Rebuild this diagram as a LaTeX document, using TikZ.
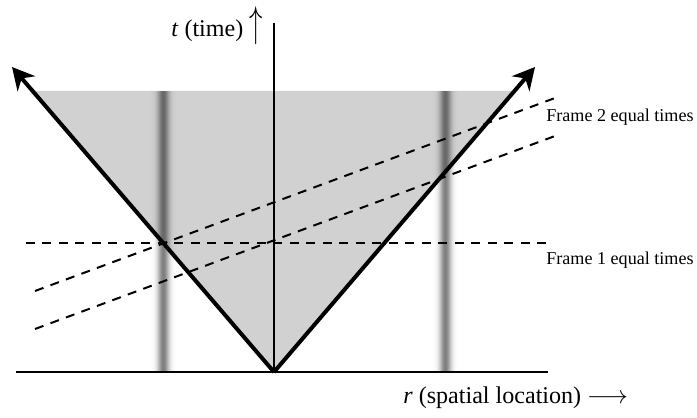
\documentclass[tikz,border=0pt]{standalone}
\usepackage{fontspec}
\setmainfont{Liberation Serif}
\usepackage{tikz}
\usetikzlibrary{arrows.meta}

\begin{document}
\begin{tikzpicture}[x=0.02cm, y=-0.02cm,
  cone/.style={line width=0.08cm, -{Stealth[length=4.4mm, width=4.6mm, inset=1.4mm]}},
  axis/.style={line width=0.04cm},
  equal/.style={line width=0.04cm, dash pattern=on 0.18cm off 0.15cm},
  framelab/.style={font=\fontsize{10.3}{13}\selectfont, anchor=base west, inner sep=0pt},
  axislab/.style={font=\fontsize{13.7}{16}\selectfont, inner sep=0pt}]
\useasboundingbox (0,0) rectangle (697,418);
% light cone and its shaded interior
\coordinate (apex) at (274,372);
\coordinate (ltip) at (12,67);
\coordinate (rtip) at (535,67);
\coordinate (gl) at (34,91);
\coordinate (gr) at (514,91);
\fill[black!18] (gl) -- (gr) -- (apex) -- cycle;
% world lines of the two objects
\foreach \wx in {163,445} {
  \foreach \i in {-13,...,13} {
    \pgfmathsetmacro\op{0.5*exp(-(\i/5.8)^2)}
    \fill[black, fill opacity=\op] (\wx+\i-0.5,91) rectangle (\wx+\i+0.5,372);
  }
}
% axes
\coordinate (bl) at (16,372);
\coordinate (br) at (548,372);
\coordinate (ttop) at (274,23);
\draw[axis] (bl) -- (br);
\draw[axis] (apex) -- (ttop);
% lines of equal time
\coordinate (h1l) at (26,243);
\coordinate (h1r) at (548,243);
\coordinate (f2al) at (35,291);
\coordinate (f2ar) at (555,98);
\coordinate (f2bl) at (35,329);
\coordinate (f2br) at (555,136);
\draw[equal] (h1l) -- (h1r);
\draw[equal] (f2al) -- (f2ar);
\draw[equal] (f2bl) -- (f2br);
\draw[cone] (apex) -- (ltip);
\draw[cone] (apex) -- (rtip);
% labels
\node[framelab] (f2) at (546,122) {Frame 2 equal times};
\node[framelab] (f1) at (546,265) {Frame 1 equal times};
\node[axislab, anchor=base east] (tlab) at (263,37) {\textit{t} (time) \scalebox{1.05}[1.7]{$\uparrow$}};
\node[axislab, anchor=base west] (rlab) at (403,404) {\textit{r} (spatial location) $\longrightarrow$};
\end{tikzpicture}
\end{document}
